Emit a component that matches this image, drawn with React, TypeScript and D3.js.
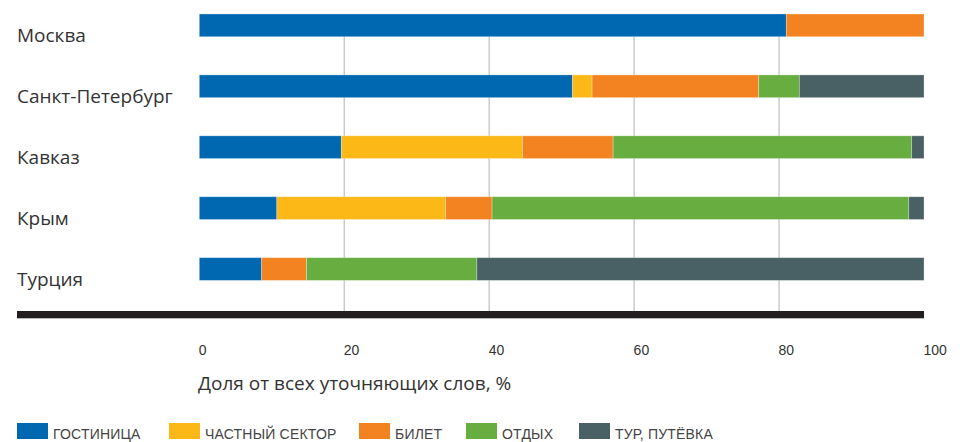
import { useEffect, useRef } from 'react';
import * as d3 from 'd3';

const categories = ['Москва', 'Санкт-Петербург', 'Кавказ', 'Крым', 'Турция'];
const seriesNames = ['ГОСТИНИЦА', 'ЧАСТНЫЙ СЕКТОР', 'БИЛЕТ', 'ОТДЫХ', 'ТУР, ПУТЁВКА'];
const seriesColors = ['#0067b1', '#fbb817', '#f38321', '#67ad3f', '#496164'];

// shares per city, %
const hotel = [81, 51.5, 19.6, 10.7, 8.6];
const privateSector = [0, 2.7, 25.0, 23.3, 0];
const ticket = [19, 23.0, 12.5, 6.4, 6.2];
const leisure = [0, 5.6, 41.2, 57.5, 23.5];
const tour = [0, 17.2, 1.7, 2.1, 61.7];

const xTicks = [0, 20, 40, 60, 80, 100];
const axisTitle = 'Доля от всех уточняющих слов, %';

export default function App() {
  const svgRef = useRef<SVGSVGElement>(null);

  useEffect(() => {
    if (!svgRef.current) return;
    const svg = d3.select(svgRef.current);
    svg.selectAll('*').remove();

    const width = 966;
    const height = 442;
    svg.attr('width', width).attr('height', height);

    const rows = categories.map((name, i) => ({
      name,
      values: [hotel[i], privateSector[i], ticket[i], leisure[i], tour[i]]
    }));

    const x = d3.scaleLinear().domain([0, 100]).range([199.3, 924]);
    const y = d3.scaleBand().domain(categories).range([14, 280.4]).paddingInner(0.627).paddingOuter(0);

    // grid lines
    svg.append('g')
      .selectAll('line')
      .data(xTicks.slice(1, -1))
      .enter()
      .append('line')
      .attr('x1', (d) => x(d))
      .attr('x2', (d) => x(d))
      .attr('y1', 14)
      .attr('y2', 311)
      .attr('stroke', '#c4c4c4')
      .attr('stroke-width', 1.3);

    // stacked bars
    const rowG = svg.append('g')
      .selectAll('g')
      .data(rows)
      .enter()
      .append('g')
      .attr('transform', (d) => `translate(0,${y(d.name)})`);

    rowG.each(function (row) {
      let acc = 0;
      const segs = row.values.map((v, k) => {
        const s = { x0: acc, x1: acc + v, k };
        acc += v;
        return s;
      }).filter((s) => s.x1 - s.x0 > 0);
      d3.select(this)
        .selectAll('rect')
        .data(segs)
        .enter()
        .append('rect')
        .attr('x', (s) => x(s.x0))
        .attr('width', (s) => Math.min(x(s.x1), x(100)) - x(s.x0))
        .attr('y', 0)
        .attr('height', y.bandwidth())
        .attr('fill', (s) => seriesColors[s.k])
        .attr('stroke', 'rgba(255,255,255,0.35)')
        .attr('stroke-width', 0.8);
    });

    // category labels
    svg.append('g')
      .selectAll('text')
      .data(categories)
      .enter()
      .append('text')
      .attr('x', 17)
      .attr('y', (d) => (y(d) as number) + y.bandwidth() / 2 + 16.5)
      .attr('font-family', '"Open Sans", sans-serif')
      .attr('font-size', '19px')
      .attr('fill', '#333')
      .text((d) => d);

    // baseline
    svg.append('rect')
      .attr('x', 17)
      .attr('y', 311)
      .attr('width', x(100) - 17)
      .attr('height', 7.3)
      .attr('fill', '#231f20');

    // tick labels
    svg.append('g')
      .selectAll('text')
      .data(xTicks)
      .enter()
      .append('text')
      .attr('x', (d) => x(d) - 0.5)
      .attr('y', 354.5)
      .attr('font-family', '"Liberation Sans", Arial, sans-serif')
      .attr('font-size', '14px')
      .attr('fill', '#333')
      .text((d) => d);

    svg.append('text')
      .attr('x', 198)
      .attr('y', 390)
      .attr('font-family', '"Open Sans", sans-serif')
      .attr('font-size', '19px')
      .attr('fill', '#333')
      .text(axisTitle);

    // legend
    const legendX = [17, 169, 359, 466, 579];
    const legend = svg.append('g')
      .selectAll('g')
      .data(seriesNames)
      .enter()
      .append('g')
      .attr('transform', (_d, i) => `translate(${legendX[i]},423)`);
    legend.append('rect')
      .attr('width', 31)
      .attr('height', 16)
      .attr('fill', (_d, i) => seriesColors[i]);
    legend.append('text')
      .attr('x', 36)
      .attr('y', 15.5)
      .attr('font-family', '"Liberation Sans", Arial, sans-serif')
      .attr('font-size', '14px')
      .attr('letter-spacing', '0.2px')
      .attr('fill', '#444')
      .text((d) => d);
  }, []);

  return (
    <div style={{ position: 'absolute', left: 0, top: 0 }}>
      <svg ref={svgRef} style={{ display: 'block' }} />
    </div>
  );
}
